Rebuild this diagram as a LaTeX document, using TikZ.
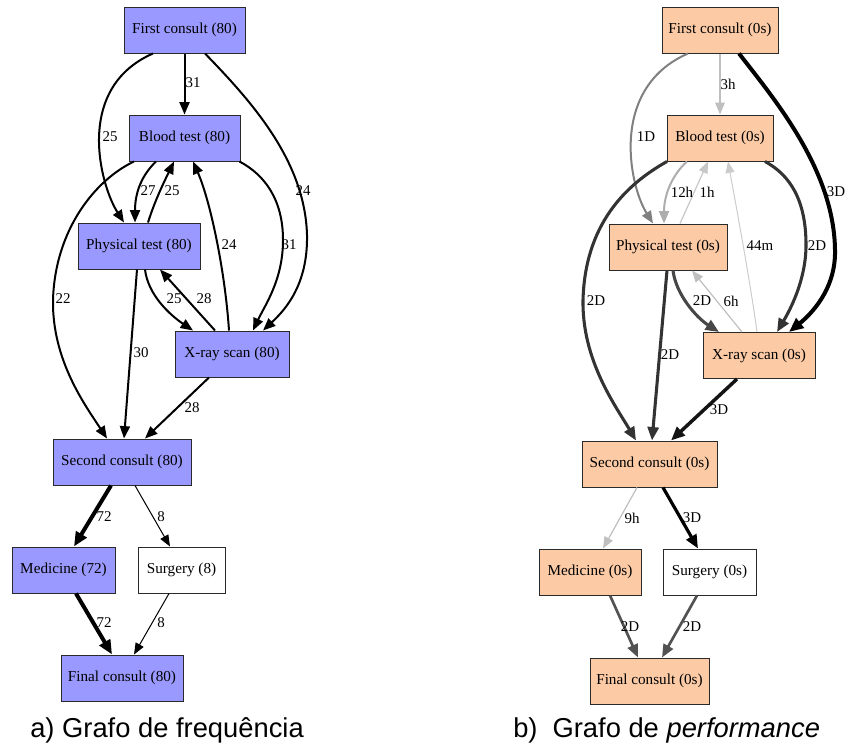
\documentclass[tikz,border=0pt]{standalone}
\usepackage{fontspec}
\setmainfont{Liberation Serif}
\newfontfamily\capfont{Liberation Sans}
\usetikzlibrary{arrows.meta,calc}
\definecolor{freqfill}{HTML}{9999FF}
\definecolor{perffill}{HTML}{FCCBA6}
\definecolor{boxline}{HTML}{2A2A2A}
\begin{document}
\begin{tikzpicture}[x=0.75pt,y=-0.75pt,
  box/.style={draw=boxline, line width=0.75pt, minimum height=34.5pt, inner sep=0pt,
    font=\fontsize{11.4}{13}\selectfont},
  fq/.style={box, fill=freqfill},
  pf/.style={box, fill=perffill},
  plainbox/.style={box, fill=white},
  lbl/.style={font=\fontsize{11.2}{13}\selectfont, inner sep=0pt},
  tipped/.style={-{Triangle[length=7.8pt 1,width=6pt 1]}},
  fe/.style={tipped, line width=1.5pt},
  fethick/.style={tipped, line width=3pt},
  fethin/.style={tipped, line width=0.75pt},
  pe/.style 2 args={tipped, draw=#1, line width=#2},
  captext/.style={anchor=base west, inner sep=0pt, font=\capfont\fontsize{20.5}{24}\selectfont}]
\useasboundingbox (0,0) rectangle (845,746);

% ---------- frequency graph ----------
\node[fq, minimum width=90.75pt] (fA) at (184.5,30) {First consult (80)};
\node[fq, minimum width=83.25pt] (bA) at (184.5,138) {Blood test (80)};
\node[fq, minimum width=91.5pt]  (pA) at (139,246) {Physical test (80)};
\node[fq, minimum width=85.5pt]  (xA) at (232,354) {X-ray scan (80)};
\node[fq, minimum width=103.5pt] (sA) at (122,462) {Second consult (80)};
\node[fq, minimum width=77.25pt] (mA) at (63.5,570) {Medicine (72)};
\node[plainbox, minimum width=65.25pt] (gA) at (181.5,570) {Surgery (8)};
\node[fq, minimum width=91.5pt]  (zA) at (122,678) {Final consult (80)};

\draw[fe] (fA.south) -- (bA.north);
\draw[fe] ($(fA.south)+(-31.5,0)$) .. controls (74,88) and (100,185) .. ($(pA.north)+(-15,0)$);
\draw[fe] ($(fA.south)+(20.5,0)$) .. controls (250,100) and (305,160) .. (307,235)
          .. controls (308,285) and (285,310) .. ($(xA.north)+(31,0)$);
\draw[fe] ($(bA.south)+(-28.5,0)$) .. controls (142,175) and (135,192) .. ($(pA.north)+(-4,0)$);
\draw[fe] ($(pA.north)+(9,0)$) .. controls (155,200) and (165,180) .. ($(bA.south)+(-10.5,0)$);
\draw[fe] ($(xA.north)+(-3,0)$) .. controls (225,270) and (210,200) .. ($(bA.south)+(8.5,0)$);
\draw[fe] ($(bA.south)+(55,0)$) .. controls (265,175) and (283,200) .. (283,240)
          .. controls (283,280) and (265,305) .. ($(xA.north)+(21,0)$);
\draw[fe] ($(bA.south)+(-50.5,0)$) .. controls (95,180) and (55,230) .. (53,300)
          .. controls (52,360) and (85,405) .. ($(sA.north)+(-15,0)$);
\draw[fe] ($(pA.south)+(-2,0)$) -- ($(sA.north)+(2,0)$);
\draw[fe] ($(pA.south)+(6,0)$) .. controls (148,295) and (170,315) .. ($(xA.north)+(-39,0)$);
\draw[fe] ($(xA.north)+(-17,0)$) -- ($(pA.south)+(21,0)$);
\draw[fe] ($(xA.south)+(-23,0)$) -- ($(sA.north)+(23,0)$);
\draw[fethick] ($(sA.south)+(-11,0)$) -- ($(mA.north)+(10.5,0)$);
\draw[fethin] ($(sA.south)+(13,0)$) -- ($(gA.north)+(-11.5,0)$);
\draw[fethick] ($(mA.south)+(12.5,0)$) -- ($(zA.north)+(-10,0)$);
\draw[fethin] ($(gA.south)+(-12.5,0)$) -- ($(zA.north)+(12,0)$);

\node[lbl] (lA1) at (193,83) {31};
\node[lbl] (lA2) at (110,137) {25};
\node[lbl] (lA3) at (303,191) {24};
\node[lbl] (lA4) at (148,191) {27};
\node[lbl] (lA5) at (172,191) {25};
\node[lbl] (lA6) at (229,245) {24};
\node[lbl] (lA7) at (289,245) {31};
\node[lbl] (lA8) at (63,299) {22};
\node[lbl] (lA9) at (141,353) {30};
\node[lbl] (lA10) at (174,299) {25};
\node[lbl] (lA11) at (204,299) {28};
\node[lbl] (lA12) at (192,408) {28};
\node[lbl] (lA13) at (104,517) {72};
\node[lbl] (lA14) at (161,517) {8};
\node[lbl] (lA15) at (104,623) {72};
\node[lbl] (lA16) at (161,623) {8};

\node[captext] (capA) at (30,737) {a) Grafo de frequência};

% ---------- performance graph ----------
\node[pf, minimum width=87pt]     (fB) at (720,30) {First consult (0s)};
\node[pf, minimum width=79.5pt]   (bB) at (720,138) {Blood test (0s)};
\node[pf, minimum width=88.5pt]   (pB) at (668,247) {Physical test (0s)};
\node[pf, minimum width=84pt]     (xB) at (759,355.5) {X-ray scan (0s)};
\node[pf, minimum width=101.25pt] (sB) at (649.5,464) {Second consult (0s)};
\node[pf, minimum width=76.5pt]   (mB) at (590,572) {Medicine (0s)};
\node[plainbox, minimum width=69.75pt] (gB) at (709.5,572) {Surgery (0s)};
\node[pf, minimum width=89.25pt]  (zB) at (649.5,681) {Final consult (0s)};

\draw[pe={black!25}{1.1pt}] (fB.south) -- (bB.north);
\draw[pe={black!50}{1.5pt}] ($(fB.south)+(-32,0)$) .. controls (609,88) and (629,185) .. ($(pB.north)+(-15,0)$);
\draw[pe={black}{3pt}] ($(fB.south)+(19,0)$) .. controls (775,100) and (834,170) .. (835,250)
          .. controls (836,290) and (810,315) .. ($(xB.north)+(30,0)$);
\draw[pe={black!32}{1.5pt}] ($(bB.south)+(-33,0)$) .. controls (672,175) and (664,195) .. ($(pB.north)+(-4,0)$);
\draw[pe={black!22}{0.9pt}] ($(pB.north)+(12,0)$) -- ($(bB.south)+(-12,0)$);
\draw[pe={black!20}{0.75pt}] ($(xB.north)+(-2,0)$) .. controls (750,280) and (735,200) .. ($(bB.south)+(8,0)$);
\draw[pe={black!80}{2.3pt}] ($(bB.south)+(45,0)$) .. controls (790,175) and (806,200) .. (806,245)
          .. controls (806,280) and (790,310) .. ($(xB.north)+(18,0)$);
\draw[pe={black!80}{2.3pt}] ($(bB.south)+(-53,0)$) .. controls (625,185) and (585,225) .. (583,300)
          .. controls (582,360) and (615,405) .. ($(sB.north)+(-13.5,0)$);
\draw[pe={black!80}{2.3pt}] ($(pB.south)+(-1,0)$) -- ($(sB.north)+(2.5,0)$);
\draw[pe={black!72}{2.3pt}] ($(pB.south)+(5,0)$) .. controls (676,295) and (697,318) .. ($(xB.north)+(-40,0)$);
\draw[pe={black!25}{0.9pt}] ($(xB.north)+(-17,0)$) -- ($(pB.south)+(24,0)$);
\draw[pe={black!92}{2.6pt}] ($(xB.south)+(-22,0)$) -- ($(sB.north)+(21.5,0)$);
\draw[pe={black!25}{0.9pt}] ($(sB.south)+(-12.5,0)$) -- ($(mB.north)+(13,0)$);
\draw[pe={black}{2.4pt}] ($(sB.south)+(13.5,0)$) -- ($(gB.north)+(-11.5,0)$);
\draw[pe={black!68}{2pt}] ($(mB.south)+(20,0)$) -- ($(zB.north)+(-11.5,0)$);
\draw[pe={black!68}{2pt}] ($(gB.south)+(-12.5,0)$) -- ($(zB.north)+(12.5,0)$);

\node[lbl] (lB1) at (728,84) {3h};
\node[lbl] (lB2) at (646,137) {1D};
\node[lbl] (lB3) at (836,192) {3D};
\node[lbl] (lB4) at (682,192) {12h};
\node[lbl] (lB5) at (707,192) {1h};
\node[lbl] (lB6) at (760,246) {44m};
\node[lbl] (lB7) at (817,246) {2D};
\node[lbl] (lB8) at (596,301) {2D};
\node[lbl] (lB9) at (670,355) {2D};
\node[lbl] (lB10) at (702,301) {2D};
\node[lbl] (lB11) at (731,301) {6h};
\node[lbl] (lB12) at (719,410) {3D};
\node[lbl] (lB13) at (632,518) {9h};
\node[lbl] (lB14) at (692,518) {3D};
\node[lbl] (lB15) at (630,627) {2D};
\node[lbl] (lB16) at (692,627) {2D};

\node[captext] (capB) at (513,737) {b)\hspace{0.55em}Grafo de \textit{performance}};
\end{tikzpicture}
\end{document}
